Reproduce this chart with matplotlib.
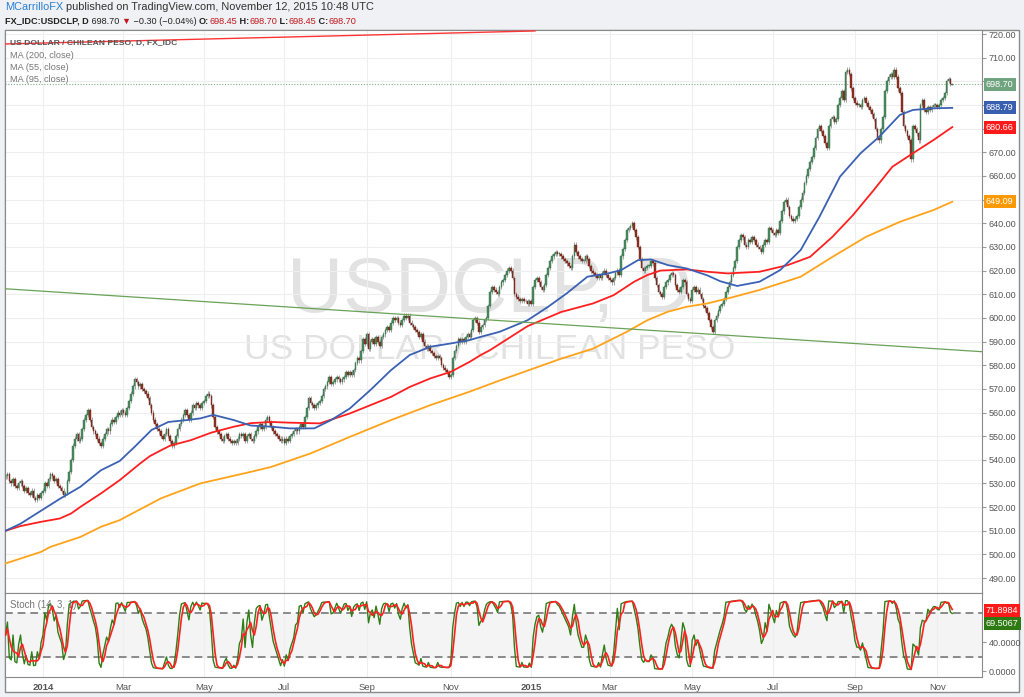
import numpy as np
import pandas as pd
import matplotlib
matplotlib.use('Agg')
import matplotlib.pyplot as plt
import matplotlib.transforms as mtransforms
from matplotlib.patches import Rectangle

plt.rcParams['font.family'] = ['Liberation Sans', 'DejaVu Sans']

# daily closes USD/CLP, one list per month
dec13 = [533, 534, 531, 530, 532, 529, 528, 530, 531, 529, 527, 528, 526, 525, 527, 524, 523, 525, 524, 526]
jan14 = [527, 530, 529, 532, 534, 533, 531, 532, 529, 528, 527, 525, 526, 531, 535, 540, 546, 549, 551, 548, 549, 553, 557]
feb14 = [559, 561, 557, 554, 552, 551, 549, 547, 546, 549, 551, 553, 552, 555, 557, 556, 558, 560, 559, 561]
mar14 = [560, 559, 562, 565, 568, 571, 574, 573, 571, 572, 570, 569, 568, 566, 563, 560, 557, 555, 553, 552, 550]
apr14 = [549, 551, 553, 550, 548, 546, 547, 550, 553, 555, 557, 559, 561, 559, 557, 560, 563, 562, 564, 563, 562, 564]
may14 = [565, 567, 568, 567, 563, 558, 554, 552, 551, 549, 548, 550, 551, 549, 548, 547, 548, 547, 549, 551, 550, 551]
jun14 = [548, 550, 551, 549, 548, 550, 552, 554, 555, 553, 554, 557, 558, 556, 554, 552, 551, 550, 549, 548, 549]
jul14 = [547, 549, 548, 550, 551, 552, 553, 552, 554, 555, 554, 558, 562, 566, 564, 563, 562, 563, 564, 565, 567, 570, 571]
aug14 = [573, 575, 572, 573, 574, 575, 574, 573, 574, 575, 577, 576, 577, 576, 578, 581, 583, 582, 586, 591, 589]
sep14 = [593, 587, 590, 591, 589, 592, 590, 588, 592, 593, 595, 596, 595, 598, 600, 599, 600, 598, 597, 599, 601, 600]
oct14 = [601, 598, 597, 596, 595, 594, 592, 593, 590, 588, 587, 588, 586, 585, 584, 583, 584, 583, 580, 579, 578, 577, 575]
nov14 = [576, 583, 586, 588, 591, 590, 591, 590, 592, 593, 592, 595, 599, 600, 598, 594, 596, 597, 599, 600]
dec14 = [605, 611, 613, 612, 611, 610, 613, 615, 616, 618, 620, 621, 620, 617, 610, 609, 608, 607, 608, 607, 607, 606, 607]
jan15 = [606, 613, 616, 617, 615, 613, 612, 614, 618, 621, 624, 626, 627, 628, 627, 627, 626, 625, 624, 623, 622, 621]
feb15 = [626, 631, 628, 626, 625, 624, 624, 626, 625, 622, 620, 619, 618, 617, 618, 617, 619, 620, 618, 617]
mar15 = [616, 615, 617, 619, 620, 618, 626, 629, 633, 637, 638, 639, 640, 637, 634, 630, 625, 621, 620, 621, 622, 622]
apr15 = [624, 623, 617, 614, 611, 610, 609, 613, 615, 616, 618, 619, 618, 614, 612, 611, 613, 616, 615, 610, 608, 607]
may15 = [612, 613, 611, 612, 610, 608, 605, 604, 602, 599, 596, 594, 599, 601, 603, 605, 606, 608, 611, 613, 615]
jun15 = [618, 621, 624, 630, 633, 635, 634, 631, 630, 633, 632, 634, 633, 631, 630, 629, 628, 631, 633, 632, 638, 637]
jul15 = [636, 635, 637, 636, 641, 645, 649, 650, 647, 643, 642, 641, 642, 643, 647, 650, 653, 657, 660, 663, 666, 668, 672]
aug15 = [676, 680, 681, 679, 677, 674, 672, 681, 684, 685, 683, 684, 690, 693, 696, 692, 704, 705, 703, 697, 693]
sep15 = [691, 690, 690, 689, 692, 693, 691, 689, 688, 686, 684, 680, 676, 675, 680, 685, 696, 700, 702, 703, 702, 705]
oct15 = [702, 697, 695, 687, 681, 679, 677, 675, 667, 681, 680, 678, 675, 690, 692, 688, 687, 689, 688, 689, 690, 690]
nov15 = [689, 690, 692, 693, 695, 700, 701, 699, 698.70]

# last bar as quoted in the header
last_open, last_high, last_low, last_close = 698.45, 698.70, 698.45, 698.70
last_change, last_change_pct = -0.30, -0.04

# moving averages: bar number -> value
ma55_bar = [0, 8, 19, 29, 40, 51, 61, 69, 78, 87, 97, 104, 111, 122, 131, 142, 152, 165, 174, 184, 195,
            206, 216, 227, 238, 248, 254, 264, 279, 290, 300, 311, 322, 329, 338, 345, 354, 364, 375, 382,
            391, 403, 414, 425, 435, 446, 457, 467, 478, 485, 496, 506]
ma55_val = [510, 513, 518.5, 523.5, 528.6, 535.6, 539.5, 545.5, 552.6, 556, 556.8, 557.5, 559, 556.8, 554.5,
            554, 553.3, 553.3, 556.8, 561.7, 569.5, 577.9, 584.3, 587.8, 589.2, 590.6, 592, 594.1, 599, 604.7,
            610.4, 617.4, 618.8, 620.2, 624.4, 624.7, 622.3, 620.9, 618, 615.5, 613.5, 615.3, 620.2, 628.7,
            642.7, 659.7, 669.6, 676.6, 685.8, 687.9, 688.6, 688.79]
ma95_bar = [0, 8, 19, 29, 35, 40, 51, 61, 72, 77, 83, 88, 99, 110, 122, 131, 142, 152, 168, 184, 195, 206,
            216, 227, 238, 248, 254, 259, 279, 297, 314, 325, 336, 343, 350, 364, 375, 386, 403, 418, 430,
            442, 453, 464, 474, 485, 496, 506]
ma95_val = [510, 512, 513.8, 515.2, 517.3, 520.1, 525.8, 531.4, 538.5, 541.5, 544, 546, 548.3, 551.5, 554,
            555.5, 556, 555.7, 555.4, 559.6, 563.1, 566.6, 570.8, 574.4, 577.2, 581.4, 584.3, 586.4, 596.5,
            602.5, 606.1, 609.6, 615.3, 618.1, 620, 620.5, 619.5, 618.8, 619.5, 622.3, 625.8, 634.3, 643.5,
            654, 663.9, 669.6, 675.2, 680.66]
ma200_bar = [0, 19, 24, 40, 51, 61, 78, 83, 104, 131, 142, 163, 184, 206, 227, 248, 264, 280, 296, 314,
             332, 343, 354, 364, 375, 386, 403, 425, 442, 460, 478, 496, 506]
ma200_val = [496.2, 501.1, 503.2, 507.4, 511.7, 514.5, 521.6, 523.7, 530, 534.9, 537, 542.7, 549.7, 556.8,
             563.1, 568.8, 573.5, 578, 582.5, 587, 594.1, 599, 602.6, 604.7, 606.1, 608.2, 611.8, 617.4,
             625.8, 634.3, 640.6, 645.6, 649.09]

# hand-drawn trend lines: bar number -> price
green_tl_bar = [0, 522]
green_tl_val = [612.3, 585.7]
red_tl_bar = [0, 283]
red_tl_val = [715.8, 721.3]

stoch_d_last = 71.8984
stoch_k_last = 69.5067

months = [dec13, jan14, feb14, mar14, apr14, may14, jun14, jul14, aug14, sep14, oct14, nov14,
          dec14, jan15, feb15, mar15, apr15, may15, jun15, jul15, aug15, sep15, oct15, nov15]
closes = np.array([v for m in months for v in m], dtype=float)
dates = pd.bdate_range(end='2015-11-12', periods=len(closes))
x = np.arange(len(closes))

opens = np.r_[closes[0], closes[:-1]]
opens[-1] = last_open
wick = 0.9
highs = np.maximum(opens, closes) + wick
lows = np.minimum(opens, closes) - wick
highs[-1], lows[-1] = last_high, last_low

# stochastic (14) with 3-bar signal line
hh = pd.Series(highs).rolling(14, min_periods=1).max()
ll = pd.Series(lows).rolling(14, min_periods=1).min()
stoch_k = 100 * (pd.Series(closes) - ll) / (hh - ll)
stoch_d = stoch_k.rolling(3, min_periods=1).mean()

W, H = 1024, 697
fx = lambda px: px / W
fy = lambda py: 1 - py / H

fig = plt.figure(figsize=(W / 100, H / 100), dpi=100, facecolor='#eff1f4')
fig.patches.append(Rectangle((fx(5), fy(692)), fx(1014), fy(30) - fy(692), transform=fig.transFigure,
                             fc='white', ec='#8a8a8a', lw=1, zorder=-10))

ax = fig.add_axes([fx(5), fy(593), fx(977), fy(30) - fy(593)])
ax2 = fig.add_axes([fx(5), fy(677), fx(977), fy(593) - fy(677)], sharex=ax)

# watermark
ax.text(0.496, 0.536, 'USDCLP, D', transform=ax.transAxes, ha='center', va='center',
        fontsize=56, color='#e2e2e2', zorder=0)
ax.text(0.496, 0.432, 'US DOLLAR / CHILEAN PESO', transform=ax.transAxes, ha='center', va='center',
        fontsize=25.5, color='#e2e2e2', zorder=0)

# candles
up = closes >= opens
ax.vlines(x, lows, highs, color='#a6a6a6', lw=0.7, zorder=2)
ax.bar(x, np.maximum(np.abs(closes - opens), 0.3), bottom=np.minimum(opens, closes), width=0.85,
       color=np.where(up, '#4d8d60', '#8f3325'), edgecolor=np.where(up, '#2e6b42', '#6a1f15'),
       lw=0.3, zorder=3)

ax.plot(ma200_bar, ma200_val, color='#ffa31a', lw=1.3, zorder=4)
ax.plot(ma95_bar, ma95_val, color='#ff1f1f', lw=1.3, zorder=4)
ax.plot(ma55_bar, ma55_val, color='#3a61b3', lw=1.3, zorder=4)
ax.plot(green_tl_bar, green_tl_val, color='#6aa257', lw=0.9, zorder=4)
ax.plot(red_tl_bar, red_tl_val, color='#ff3333', lw=1.0, zorder=4)
ax.axhline(last_close, color='#7fb08b', lw=0.8, ls=(0, (1, 1.5)), zorder=1)

ax.set_xlim(-0.3, 521.9)
ax.set_ylim(483.7, 721.7)
ax.set_axisbelow(True)
ax.grid(True, color='#eeeeee', lw=0.8)
ax.yaxis.tick_right()
price_ticks = np.arange(490, 721, 10)
hidden = {650, 680, 690, 700}  # covered by the value boxes
ax.set_yticks(price_ticks)
ax.set_yticklabels(['' if v in hidden else f'{v:.2f}' for v in price_ticks])
ax.tick_params(axis='y', labelsize=6.5, color='#999999', labelcolor='#555555', length=3, width=0.8, pad=2)
ax.tick_params(axis='x', labelbottom=False, length=0)
for s in ax.spines.values():
    s.set_color('#8a8a8a')

tr = mtransforms.blended_transform_factory(ax.transAxes, ax.transData)
for val, col in [(last_close, '#6fa47f'), (ma55_val[-1], '#3a5eae'), (ma95_val[-1], '#ff1a1a'),
                 (ma200_val[-1], '#ff9900')]:
    ax.text(1.004, val, f'{val:.2f}', transform=tr, fontsize=6.5, color='white', va='center', ha='left',
            bbox=dict(boxstyle='square,pad=0.22', fc=col, ec='none'), clip_on=False, zorder=10)

# stochastic panel
ax2.axhspan(20, 80, color='#f4f4f4', zorder=0)
ax2.axhline(80, color='#8a8a8a', lw=1.4, ls=(0, (4, 2.5)), zorder=1)
ax2.axhline(20, color='#8a8a8a', lw=1.4, ls=(0, (4, 2.5)), zorder=1)
ax2.plot(x, stoch_k, color='#2f7d16', lw=1.0, zorder=3)
ax2.plot(x, stoch_d, color='#ff2020', lw=1.2, zorder=4)
ax2.set_ylim(-8, 108)
ax2.yaxis.tick_right()
ax2.set_yticks([0, 40])
ax2.yaxis.set_major_formatter(lambda v, p: f'{v:.4f}')
ax2.tick_params(axis='y', labelsize=6.5, color='#999999', labelcolor='#555555', length=3, width=0.8, pad=2)
for s in ax2.spines.values():
    s.set_color('#8a8a8a')
tr2 = mtransforms.blended_transform_factory(ax2.transAxes, ax2.transData)
for val, col, dy in [(stoch_d_last, '#ff1a1a', 6.0), (stoch_k_last, '#2d7a12', -2.0)]:
    ax2.annotate(f'{val:.4f}', xy=(1.004, val), xycoords=tr2, xytext=(0, dy), textcoords='offset points',
                 fontsize=6.5, color='white', va='center', ha='left',
                 bbox=dict(boxstyle='square,pad=0.22', fc=col, ec='none'), annotation_clip=False, zorder=10)
ax2.text(0.005, 0.86, 'Stoch (14, 3, 1)', transform=ax2.transAxes, fontsize=7, color='#777777', va='center')

tick_months = pd.date_range('2014-01-01', '2015-11-01', freq='2MS')
tick_idx = [int(np.searchsorted(dates, m)) for m in tick_months]
tick_lbl = [str(m.year) if m.month == 1 else m.strftime('%b') for m in tick_months]
ax2.set_xticks(tick_idx)
ax2.set_xticklabels(tick_lbl)
ax2.tick_params(axis='x', labelsize=6.8, labelcolor='#555555', length=0, pad=4)
for lbl, m in zip(ax2.get_xticklabels(), tick_months):
    if m.month == 1:
        lbl.set_fontweight('bold')
ax2.grid(True, axis='x', color='#eeeeee', lw=0.8)
ax2.set_axisbelow(True)

# legend text inside price panel
fig.text(fx(10), fy(43.5), 'US DOLLAR / CHILEAN PESO, D, FX_IDC', fontsize=6.1, color='#555555',
         fontweight='bold', va='center')
for py, name in [(55, 'MA (200, close)'), (67, 'MA (55, close)'), (79, 'MA (95, close)')]:
    fig.text(fx(10), fy(py), name, fontsize=6.6, color='#777777', va='center')

# header lines
renderer = fig.canvas.get_renderer()

def header_line(parts, px, py, size):
    for txt, col, weight in parts:
        t = fig.text(fx(px), fy(py), txt, fontsize=size, color=col, fontweight=weight, va='baseline')
        px += t.get_window_extent(renderer).width

header_line([('MCarrilloFX', '#2b7fd0', 'normal'),
             (' published on TradingView.com, November 12, 2015 10:48 UTC', '#333333', 'normal')], 5, 10.5, 7.9)
header_line([('FX_IDC:USDCLP, D', '#222222', 'bold'),
             (f' {last_close:.2f} ', '#222222', 'normal'),
             ('\u25bc', '#c0161b', 'normal'),
             (f' \u2212{abs(last_change):.2f} (\u2212{abs(last_change_pct):.2f}%) ', '#222222', 'normal'),
             ('O:', '#222222', 'bold'), (f'{last_open:.2f}', '#c0161b', 'normal'),
             (' H:', '#222222', 'bold'), (f'{last_high:.2f}', '#c0161b', 'normal'),
             (' L:', '#222222', 'bold'), (f'{last_low:.2f}', '#c0161b', 'normal'),
             (' C:', '#222222', 'bold'), (f'{last_close:.2f}', '#c0161b', 'normal')], 5, 23.5, 6.6)

fig.savefig('out.png', dpi=100, facecolor=fig.get_facecolor())
